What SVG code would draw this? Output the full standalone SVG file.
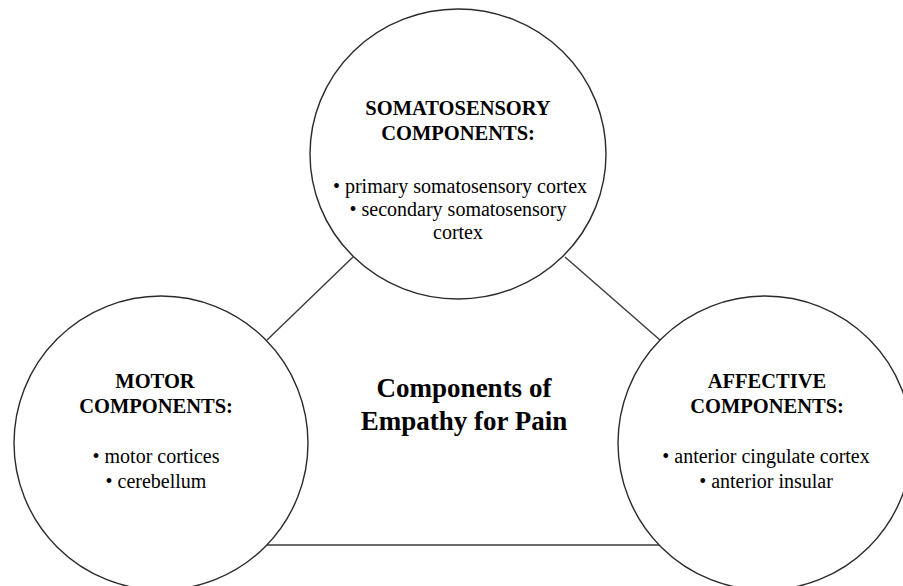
<svg xmlns="http://www.w3.org/2000/svg" width="903" height="586" viewBox="0 0 903 586">
<style>
.c{fill:#fff;stroke:#2b2b2b;stroke-width:1.4}
.l{stroke:#3a3a3a;stroke-width:1.4;fill:none}
text{font-family:"Liberation Serif","Times New Roman",serif;fill:#000;text-anchor:middle}
.h{font-weight:bold;font-size:20.5px}
.b{font-size:20px}
.t{font-weight:bold;font-size:27px}
</style>
<rect width="903" height="586" fill="#fff"/>
<g id="connectors">
<line class="l" x1="353" y1="257" x2="267" y2="340"/>
<line class="l" x1="565" y1="257" x2="660" y2="340"/>
<line class="l" x1="267" y1="545" x2="660" y2="545"/>
</g>
<g id="somatosensory">
<ellipse class="c" cx="458" cy="154" rx="148" ry="145"/>
<text class="h" x="458" y="115">SOMATOSENSORY</text>
<text class="h" x="458" y="140">COMPONENTS:</text>
<text class="b" x="460" y="193">• primary somatosensory cortex</text>
<text class="b" x="458" y="216">• secondary somatosensory</text>
<text class="b" x="458" y="239">cortex</text>
</g>
<g id="motor">
<circle class="c" cx="161" cy="443" r="147"/>
<text class="h" x="155" y="388">MOTOR</text>
<text class="h" x="156" y="413">COMPONENTS:</text>
<text class="b" x="156" y="463">• motor cortices</text>
<text class="b" x="156" y="488">• cerebellum</text>
</g>
<g id="affective">
<circle class="c" cx="765" cy="443" r="147"/>
<text class="h" x="767" y="388">AFFECTIVE</text>
<text class="h" x="767" y="413">COMPONENTS:</text>
<text class="b" x="766" y="463">• anterior cingulate cortex</text>
<text class="b" x="766" y="488">• anterior insular</text>
</g>
<g id="title">
<text class="t" x="464" y="397">Components of</text>
<text class="t" x="464" y="430">Empathy for Pain</text>
</g>
</svg>
